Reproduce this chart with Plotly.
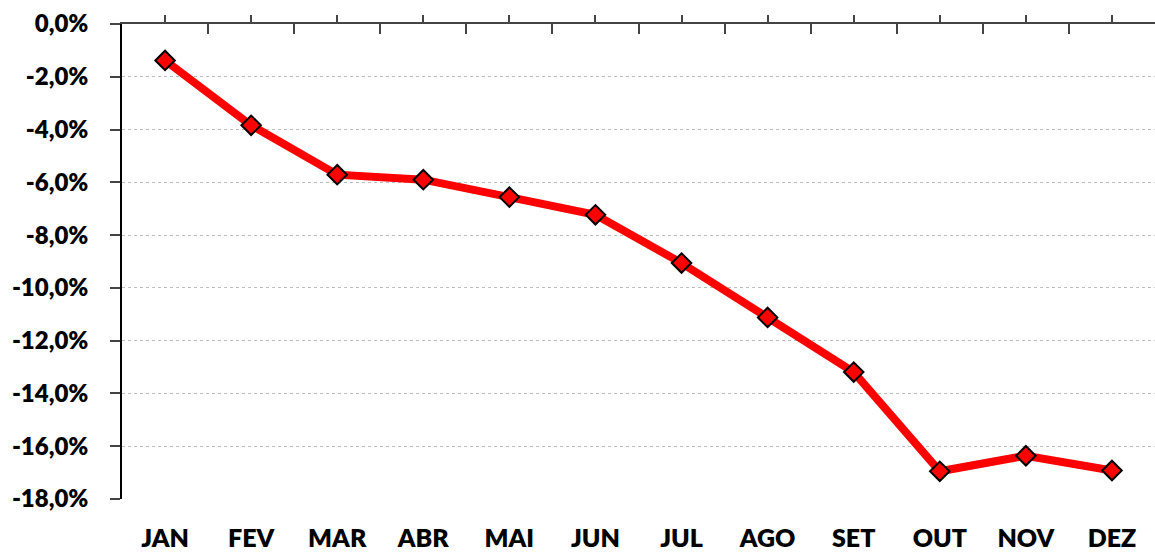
import plotly.graph_objects as go

# Monthly cumulative variation (%)
months = ["JAN", "FEV", "MAR", "ABR", "MAI", "JUN", "JUL", "AGO", "SET", "OUT", "NOV", "DEZ"]
values = [-1.38, -3.84, -5.71, -5.90, -6.56, -7.23, -9.06, -11.12, -13.19, -16.95, -16.36, -16.92]
y_ticks = [0, -2, -4, -6, -8, -10, -12, -14, -16, -18]
y_tick_labels = [f"{v:.1f}%".replace(".", ",") for v in y_ticks]

idx = list(range(len(months)))
boundaries = [i + 0.5 for i in range(-1, len(months))]
x_range = [-0.5, len(months) - 0.5]
label_font = dict(family="Lato", size=24, color="black", weight=800)

fig = go.Figure()
fig.add_trace(go.Scatter(
    x=idx, y=values, mode="lines+markers",
    line=dict(color="#ff0000", width=8),
    marker=dict(symbol="diamond", size=15, color="#ff0000",
                line=dict(color="black", width=2)),
    showlegend=False, hoverinfo="skip",
))

fig.update_layout(
    width=1155, height=552,
    margin=dict(l=122, r=0, t=24, b=53, autoexpand=False),
    paper_bgcolor="white", plot_bgcolor="white",
    font=dict(family="Lato", size=24, color="black"),
    xaxis=dict(
        range=x_range, tickmode="array", tickvals=idx, ticktext=months,
        showline=False, showgrid=False, zeroline=False, automargin=False,
        ticks="", ticklabelstandoff=22,
        tickfont=dict(family="Lato", size=25, color="black", weight=800),
    ),
    # top axis line with outward ticks at category centres
    xaxis2=dict(
        overlaying="x", side="top", range=x_range, tickmode="array",
        tickvals=idx, showticklabels=False, showline=True, linecolor="#444",
        linewidth=1.5, ticks="outside", ticklen=7, tickcolor="#444", tickwidth=1.5,
        showgrid=False, zeroline=False, automargin=False,
    ),
    # inward ticks at category boundaries
    xaxis3=dict(
        overlaying="x", side="top", range=x_range, tickmode="array",
        tickvals=boundaries, showticklabels=False, showline=False,
        ticks="inside", ticklen=10, tickcolor="#444", tickwidth=1.5,
        showgrid=False, zeroline=False, automargin=False,
    ),
    yaxis=dict(
        range=[-18, 0], tickmode="array", tickvals=y_ticks, ticktext=y_tick_labels,
        showline=True, linecolor="black", linewidth=1.5,
        ticks="outside", ticklen=10, tickcolor="#444", tickwidth=1.5,
        showgrid=True, gridcolor="#bdbdbd", griddash="dot", gridwidth=1,
        zeroline=False, ticklabelstandoff=17, automargin=False,
        tickfont=label_font,
    ),
)

# invisible traces so the overlay axes are drawn
fig.add_trace(go.Scatter(x=[None], y=[None], xaxis="x2", showlegend=False, hoverinfo="skip"))
fig.add_trace(go.Scatter(x=[None], y=[None], xaxis="x3", showlegend=False, hoverinfo="skip"))

fig.write_html("out.html")
